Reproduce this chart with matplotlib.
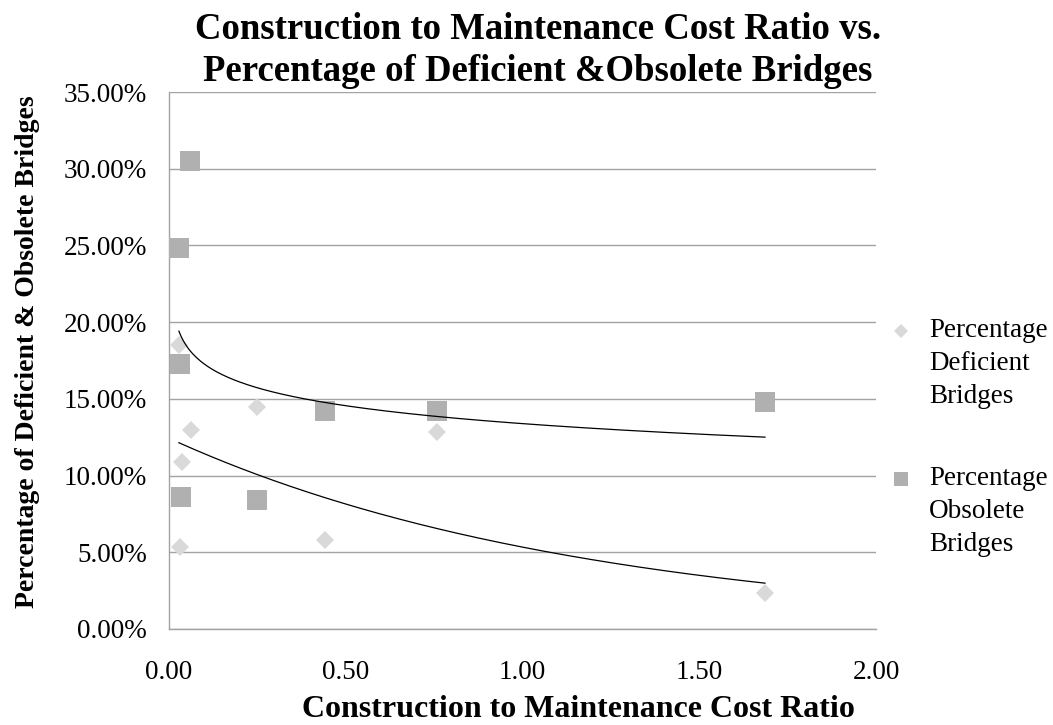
import numpy as np
import matplotlib
matplotlib.use("Agg")
import matplotlib.pyplot as plt
from matplotlib.lines import Line2D
from matplotlib.ticker import FuncFormatter, MultipleLocator

# Construction-to-maintenance cost ratio and bridge condition shares (%)
ratio_deficient = [0.028, 0.030, 0.036, 0.062, 0.249, 0.440, 0.758, 1.686]
pct_deficient = [18.5, 5.37, 10.9, 13.0, 14.45, 5.8, 12.86, 2.33]

ratio_obsolete = [0.028, 0.030, 0.034, 0.059, 0.249, 0.440, 0.758, 1.686]
pct_obsolete = [24.8, 17.3, 8.6, 30.5, 8.4, 14.2, 14.2, 14.8]

series_names = ["Percentage\nDeficient\nBridges", "Percentage\nObsolete\nBridges"]
title_text = "Construction to Maintenance Cost Ratio vs.\nPercentage of Deficient &Obsolete Bridges"
x_title = "Construction to Maintenance Cost Ratio"
y_title = "Percentage of Deficient & Obsolete Bridges"

SERIF = ["Liberation Serif", "DejaVu Serif"]
W, H = 1053, 725
DEF_COLOR = "#D9D9D9"
OBS_COLOR = "#B0B0B0"
GRID_COLOR = "#A3A3A3"

plt.rcParams["font.family"] = SERIF

fig = plt.figure(figsize=(W / 100, H / 100), dpi=100)
fig.patch.set_facecolor("white")

# plot area in pixel units
left, right, top, bottom = 169, 876, 92, 629
ax = fig.add_axes([left / W, 1 - bottom / H, (right - left) / W, (bottom - top) / H])

xd = np.asarray(ratio_deficient)
yd = np.asarray(pct_deficient)
xo = np.asarray(ratio_obsolete)
yo = np.asarray(pct_obsolete)

ax.plot(xd, yd, linestyle="none", marker="D", ms=9.2, mfc=DEF_COLOR,
        mec=DEF_COLOR, mew=0, zorder=3)
ax.plot(xo, yo, linestyle="none", marker="s", ms=14.4, mfc=OBS_COLOR,
        mec=OBS_COLOR, mew=0, zorder=3)

# exponential trend for deficient share: ln(y) = ln(A) + k x
k, lnA = np.polyfit(xd, np.log(yd), 1)
xs = np.linspace(xd.min(), xd.max(), 300)
ax.plot(xs, np.exp(lnA) * np.exp(k * xs), color="black", lw=0.9, zorder=4)

# logarithmic trend for obsolete share: y = a + b ln(x)
b, a = np.polyfit(np.log(xo), yo, 1)
xs = np.linspace(xo.min(), xo.max(), 300)
ax.plot(xs, a + b * np.log(xs), color="black", lw=0.9, zorder=4)

ax.set_xlim(0, 2.0)
ax.set_ylim(0, 35)
ax.xaxis.set_major_locator(MultipleLocator(0.5))
ax.yaxis.set_major_locator(MultipleLocator(5))
ax.xaxis.set_major_formatter(FuncFormatter(lambda v, p: f"{v:.2f}"))
ax.yaxis.set_major_formatter(FuncFormatter(lambda v, p: f"{v:.2f}%"))
ax.tick_params(axis="both", length=0, labelsize=19.5, colors="black")
ax.tick_params(axis="y", pad=16)
ax.tick_params(axis="x", pad=22)

ax.grid(axis="y", color=GRID_COLOR, lw=1.0)
ax.grid(axis="x", visible=False)
ax.set_axisbelow(True)
for side in ("top", "right"):
    ax.spines[side].set_visible(False)
for side in ("left", "bottom"):
    ax.spines[side].set_color(GRID_COLOR)
    ax.spines[side].set_linewidth(1.0)

# titles (multi-line baseline alignment anchors the last line)
fig.text(538 / W, 1 - 81 / H, title_text, ha="center", va="baseline",
         fontsize=26.5, fontweight="bold", linespacing=1.27)
fig.text(578 / W, 1 - 717 / H, x_title, ha="center", va="baseline",
         fontsize=23, fontweight="bold")
fig.text(28 / W, 1 - 352 / H, y_title, ha="center", va="center",
         rotation=90, fontsize=20, fontweight="bold")

# legend entries: marker beside the first line of each label
legend_rows = [
    (series_names[0], "D", 7.5, DEF_COLOR, 340),
    (series_names[1], "s", 9.6, OBS_COLOR, 488),
]
pitch = 31.5
for label, marker, ms, color, base in legend_rows:
    fig.add_artist(Line2D([901 / W], [1 - (base - 9) / H], transform=fig.transFigure,
                          marker=marker, ms=ms, mfc=color, mec=color, mew=0,
                          linestyle="none"))
    last_base = base + pitch * (label.count("\n"))
    fig.text(929 / W, 1 - last_base / H, label, ha="left", va="baseline",
             fontsize=19.5, linespacing=1.41)

fig.savefig("out.png", dpi=100, facecolor="white")
